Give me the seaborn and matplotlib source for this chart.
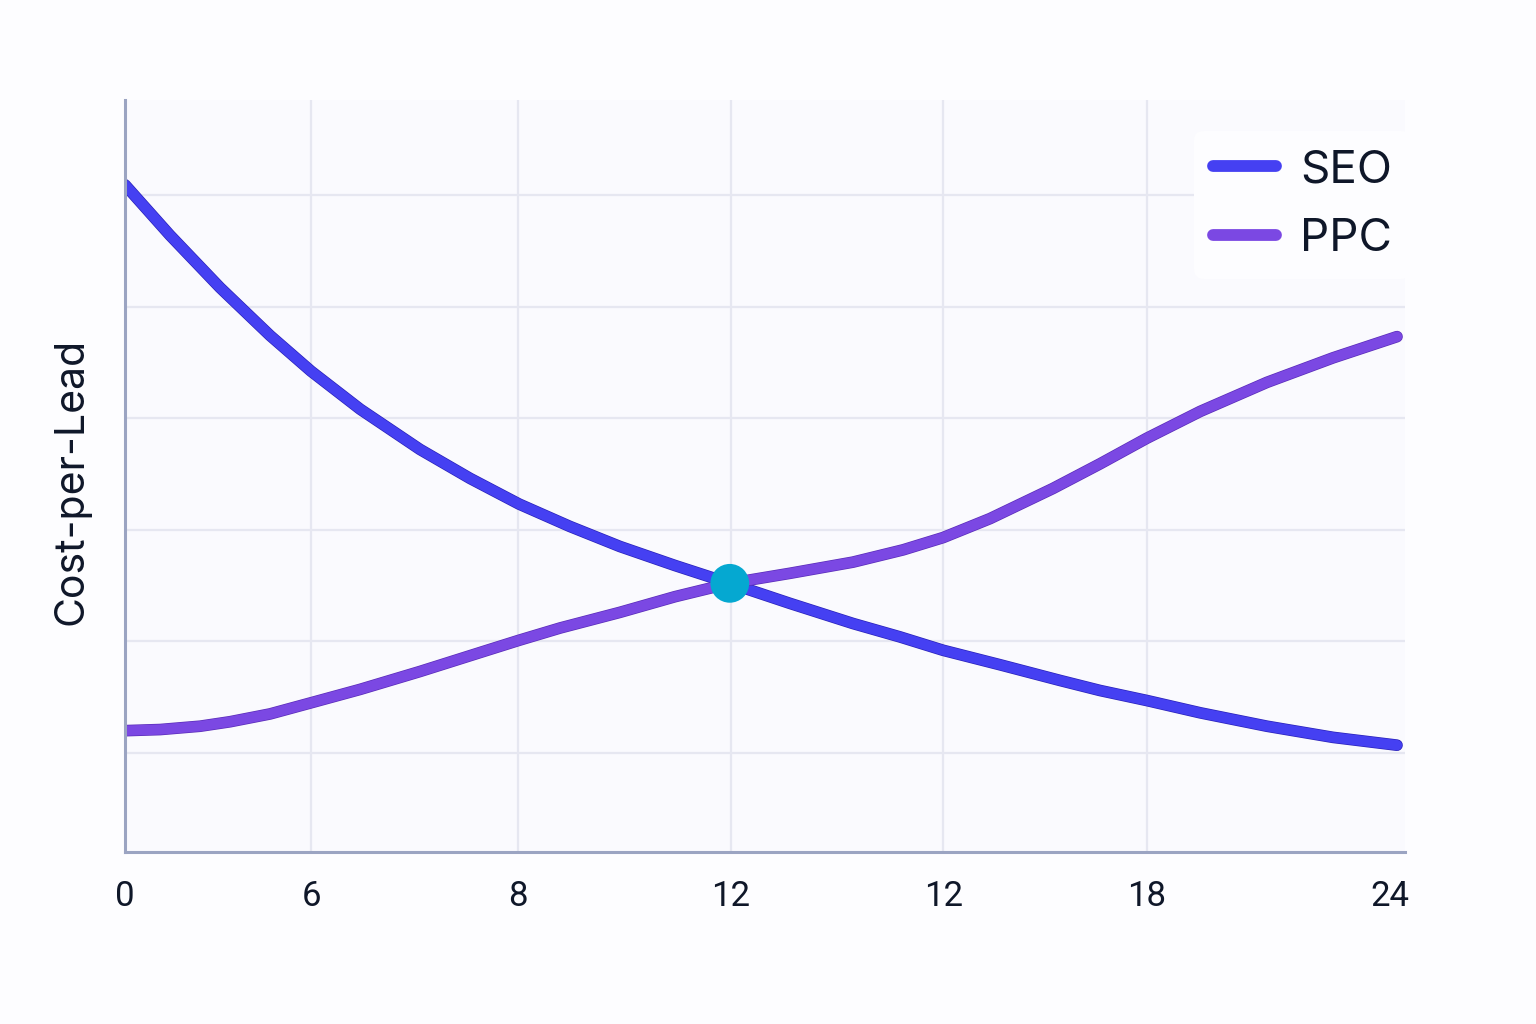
import numpy as np
import pandas as pd
import seaborn as sns
import matplotlib.pyplot as plt
import matplotlib.patheffects as pe
from matplotlib.lines import Line2D

# values (x in months-scale, y in arbitrary cost units)
seo_x = [0, 0.84, 1.78, 2.72, 3.49, 4.41, 5.53, 6.47, 7.39, 8.34, 9.28, 10.31, 11.34,
         12.47, 13.65, 14.53, 15.34, 16.41, 17.53, 18.28, 19.16, 20.16, 21.41, 22.65, 23.85]
seo_y = [6.09, 5.64, 5.17, 4.74, 4.42, 4.08, 3.72, 3.46, 3.23, 3.03, 2.85, 2.68, 2.52,
         2.34, 2.16, 2.04, 1.92, 1.79, 1.65, 1.56, 1.47, 1.36, 1.24, 1.14, 1.07]

ppc_x = [0, 0.66, 1.41, 1.97, 2.72, 3.49, 4.41, 5.53, 6.79, 7.39, 8.16, 9.28, 10.31, 11.34,
         12.47, 13.65, 14.59, 15.34, 16.22, 17.40, 18.28, 19.16, 20.16, 21.41, 22.65, 23.85]
ppc_y = [1.20, 1.21, 1.24, 1.28, 1.35, 1.45, 1.57, 1.73, 1.92, 2.01, 2.12, 2.26, 2.40, 2.52,
         2.61, 2.71, 2.82, 2.93, 3.10, 3.37, 3.59, 3.82, 4.06, 4.32, 4.54, 4.73]

cross_x = [11.34]
cross_y = [2.52]

tick_pos = [0, 3.49, 7.37, 11.36, 15.34, 19.16, 23.72]
tick_labels = ['0', '6', '8', '12', '12', '18', '24']

seo_color = '#4540f2'
ppc_color = '#7b48e3'
dot_color = '#05a8d1'
text_color = '#0f1729'

df = pd.concat([
    pd.DataFrame({'x': seo_x, 'y': seo_y, 'series': 'SEO'}),
    pd.DataFrame({'x': ppc_x, 'y': ppc_y, 'series': 'PPC'}),
])

sns.set_theme(style='whitegrid')
plt.rcParams['font.family'] = ['Inter', 'DejaVu Sans']

fig = plt.figure(figsize=(15.36, 10.24), dpi=100, facecolor='#fdfdff')
ax = fig.add_axes([125/1536, 172/1024, 1280/1536, 752/1024])
ax.set_facecolor('#fafafe')

sns.lineplot(data=df, x='x', y='y', hue='series',
             palette={'SEO': seo_color, 'PPC': ppc_color},
             sort=False, estimator=None, linewidth=7.4, legend=False, ax=ax)
for ln, edge in zip(ax.lines, ['#2a22b8', '#5a2cb8']):
    ln.set_solid_capstyle('round')
    ln.set_solid_joinstyle('round')
    ln.set_path_effects([pe.Stroke(linewidth=8.4, foreground=edge), pe.Normal()])

sns.scatterplot(x=cross_x, y=cross_y, s=780, color=dot_color, edgecolor='none',
                zorder=5, ax=ax, legend=False)

ax.set_xlim(0, 24)
ax.set_ylim(0.113, 6.85)
ax.set_xticks(tick_pos)
ax.set_xticklabels(tick_labels, fontsize=25, color=text_color, family=['Roboto', 'DejaVu Sans'])
ax.set_yticks([1, 2, 3, 4, 5, 6])
ax.set_yticklabels([])
ax.tick_params(axis='both', length=0)
ax.tick_params(axis='x', pad=20)

ax.grid(True, color='#e6e7f1', linewidth=1.6)
gl = ax.xaxis.get_gridlines()
gl[0].set_visible(False)
gl[-1].set_visible(False)

for side in ['top', 'right']:
    ax.spines[side].set_visible(False)
for side in ['left', 'bottom']:
    ax.spines[side].set_color('#9ba4c2')
    ax.spines[side].set_linewidth(2.2)

ax.set_xlabel('')
ax.set_ylabel('Cost-per-Lead', fontsize=29.5, color=text_color)
ax.yaxis.set_label_coords(-0.027, 0.493)

handles = [Line2D([0], [0], color=seo_color, lw=8.5, solid_capstyle='round'),
           Line2D([0], [0], color=ppc_color, lw=8.5, solid_capstyle='round')]
leg = ax.legend(handles, ['SEO', 'PPC'], loc='upper right',
                bbox_to_anchor=(1433/1536, 1-108/1024), bbox_transform=fig.transFigure,
                fontsize=33, handlelength=1.38, handletextpad=0.52, labelspacing=0.59,
                borderpad=0.4, frameon=True, facecolor='#fdfdff', edgecolor='none',
                framealpha=1)
for t in leg.get_texts():
    t.set_color(text_color)

fig.savefig('out.png', dpi=100, facecolor=fig.get_facecolor())
